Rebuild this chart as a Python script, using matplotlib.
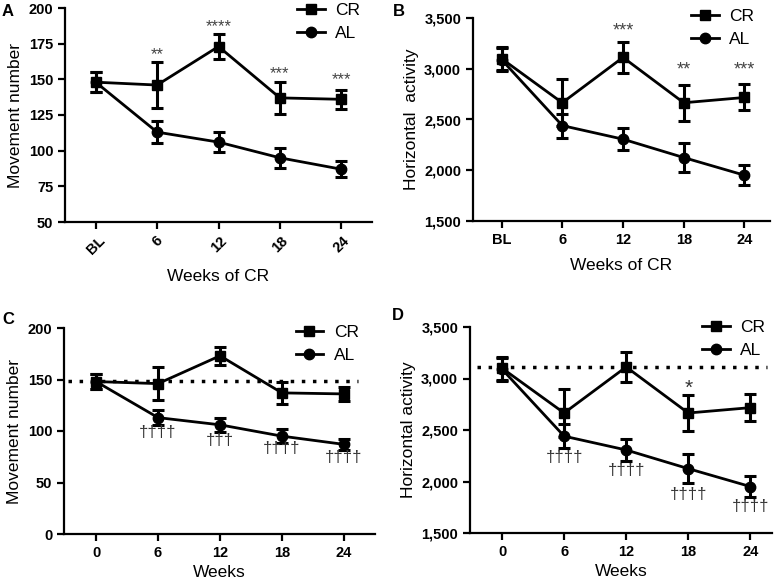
import matplotlib
matplotlib.use("Agg")
import matplotlib.pyplot as plt
import numpy as np

plt.rcParams['font.family'] = ['Liberation Sans', 'DejaVu Sans']

# ---- data ----
cat_labels = ["BL", "6", "12", "18", "24"]
weeks = [0, 6, 12, 18, 24]

mov_cr = [148, 146, 173, 137, 136]
mov_cr_err = [7, 16, 9, 11, 6.5]
mov_al = [148, 113, 106, 95, 87]
mov_al_err = [7, 7.5, 7, 7, 5.5]

hor_cr = [3100, 2665, 3112, 2665, 2717]
hor_cr_err = [110, 230, 150, 175, 128]
hor_al = [3090, 2440, 2306, 2125, 1951]
hor_al_err = [110, 118, 110, 140, 100]

stars_A = ["", "**", "****", "***", "***"]
stars_A_y = [None, 167, 187, 154, 150]
stars_B = ["", "", "***", "**", "***"]
stars_B_y = [None, None, 3370, 2990, 2985]
dag_C = ["", "††††", "†††", "††††", "††††"]
dag_C_y = [None, 99, 91, 83, 74]
dag_D = ["", "††††", "††††", "††††", "††††"]
dag_D_y = [None, 2233, 2110, 1876, 1753]
star_D = ["", "", "", "*", ""]
star_D_y = [None, None, None, 2900, None]

base_mov = 148.5
base_hor = 3110

W, H = 784, 582
fig = plt.figure(figsize=(W / 100, H / 100), dpi=100)

def ax_px(l, t, r, b):
    return fig.add_axes([l / W, (H - b) / H, (r - l) / W, (b - t) / H])

TICKFS = 10.5
LABFS = 12.5

def style(ax):
    for s in ["top", "right"]:
        ax.spines[s].set_visible(False)
    for s in ["left", "bottom"]:
        ax.spines[s].set_linewidth(1.6)
    ax.tick_params(width=1.6, length=5, labelsize=TICKFS)
    for lab in ax.get_xticklabels() + ax.get_yticklabels():
        lab.set_fontweight('bold')

def draw(ax, x, cr, cre, al, ale):
    ax.errorbar(x, cr, yerr=cre, fmt='none', ecolor='black', elinewidth=2.2, capsize=4, capthick=2.2, zorder=3)
    ax.errorbar(x, al, yerr=ale, fmt='none', ecolor='black', elinewidth=2.2, capsize=4, capthick=2.2, zorder=3)
    l1, = ax.plot(x, cr, '-s', color='black', lw=2, ms=7.5, label='CR', zorder=4)
    l2, = ax.plot(x, al, '-o', color='black', lw=2, ms=7.5, label='AL', zorder=4)
    return l1, l2

def legend(ax, handles, anchor):
    ax.legend(handles=handles, loc='upper right', bbox_to_anchor=anchor, frameon=False,
              fontsize=12.5, handlelength=1.6, handletextpad=0.6, labelspacing=0.45, borderaxespad=0)

def annot(ax, x, texts, ys, fs=11, color='#333333'):
    for xi, t, y in zip(x, texts, ys):
        if t and y is not None:
            ax.text(xi, y, t, ha='center', va='center', fontsize=fs, color=color)

pos = np.arange(len(cat_labels))

# Panel A
axA = ax_px(65, 8, 372, 222)
h = draw(axA, pos, mov_cr, mov_cr_err, mov_al, mov_al_err)
axA.set_xlim(-0.5, 4.5)
axA.set_ylim(50, 200)
axA.set_yticks([50, 75, 100, 125, 150, 175, 200])
axA.set_xticks(pos)
axA.set_xticklabels(cat_labels, rotation=45, ha='center', va='top')
axA.set_ylabel("Movement number", fontsize=LABFS)
axA.set_xlabel("Weeks of CR", fontsize=LABFS, labelpad=8)
style(axA)
legend(axA, h, (0.985, 1.055))
annot(axA, pos, stars_A, stars_A_y, fs=12, color='#444444')

# Panel B
axB = ax_px(473, 18, 770, 221)
h = draw(axB, pos, hor_cr, hor_cr_err, hor_al, hor_al_err)
axB.set_xlim(-0.47, 4.42)
axB.set_ylim(1500, 3500)
axB.set_yticks([1500, 2000, 2500, 3000, 3500])
axB.set_yticklabels([f"{v:,}" for v in [1500, 2000, 2500, 3000, 3500]])
axB.set_xticks(pos)
axB.set_xticklabels(cat_labels)
axB.set_ylabel("Horizontal  activity", fontsize=LABFS)
axB.set_xlabel("Weeks of CR", fontsize=LABFS, labelpad=8)
style(axB)
legend(axB, h, (0.97, 1.08))
annot(axB, pos, stars_B, stars_B_y, fs=13, color='#444444')

# Panel C
axC = ax_px(64, 328, 375, 534)
axC.plot([-2.7, 25.4], [base_mov, base_mov], ls=(0, (1, 2.2)), color='black', lw=2.5, zorder=2)
h = draw(axC, weeks, mov_cr, mov_cr_err, mov_al, mov_al_err)
axC.set_xlim(-3.1, 27)
axC.set_ylim(0, 200)
axC.set_yticks([0, 50, 100, 150, 200])
axC.set_xticks(weeks)
axC.set_ylabel("Movement number", fontsize=LABFS)
axC.set_xlabel("Weeks", fontsize=LABFS, labelpad=4)
style(axC)
legend(axC, h, (0.97, 1.05))
annot(axC, weeks, dag_C, dag_C_y, fs=12)

# Panel D
axD = ax_px(470, 327, 772, 533)
axD.plot([-2.4, 25.6], [base_hor, base_hor], ls=(0, (1, 2.2)), color='black', lw=2.5, zorder=2)
h = draw(axD, weeks, hor_cr, hor_cr_err, hor_al, hor_al_err)
axD.set_xlim(-3.1, 26.1)
axD.set_ylim(1500, 3500)
axD.set_yticks([1500, 2000, 2500, 3000, 3500])
axD.set_yticklabels([f"{v:,}" for v in [1500, 2000, 2500, 3000, 3500]])
axD.set_xticks(weeks)
axD.set_ylabel("Horizontal activity", fontsize=LABFS)
axD.set_xlabel("Weeks", fontsize=LABFS, labelpad=4)
style(axD)
legend(axD, h, (1.0, 1.07))
annot(axD, weeks, dag_D, dag_D_y, fs=12)
annot(axD, weeks, star_D, star_D_y, fs=15)

# Panel letters
for txt, x, y in [("A", 8, 12), ("B", 399, 11), ("C", 8, 319), ("D", 398, 316)]:
    fig.text(x / W, (H - y) / H, txt, fontsize=12, fontweight='bold', ha='center', va='center')

fig.savefig("out.png", dpi=100)
